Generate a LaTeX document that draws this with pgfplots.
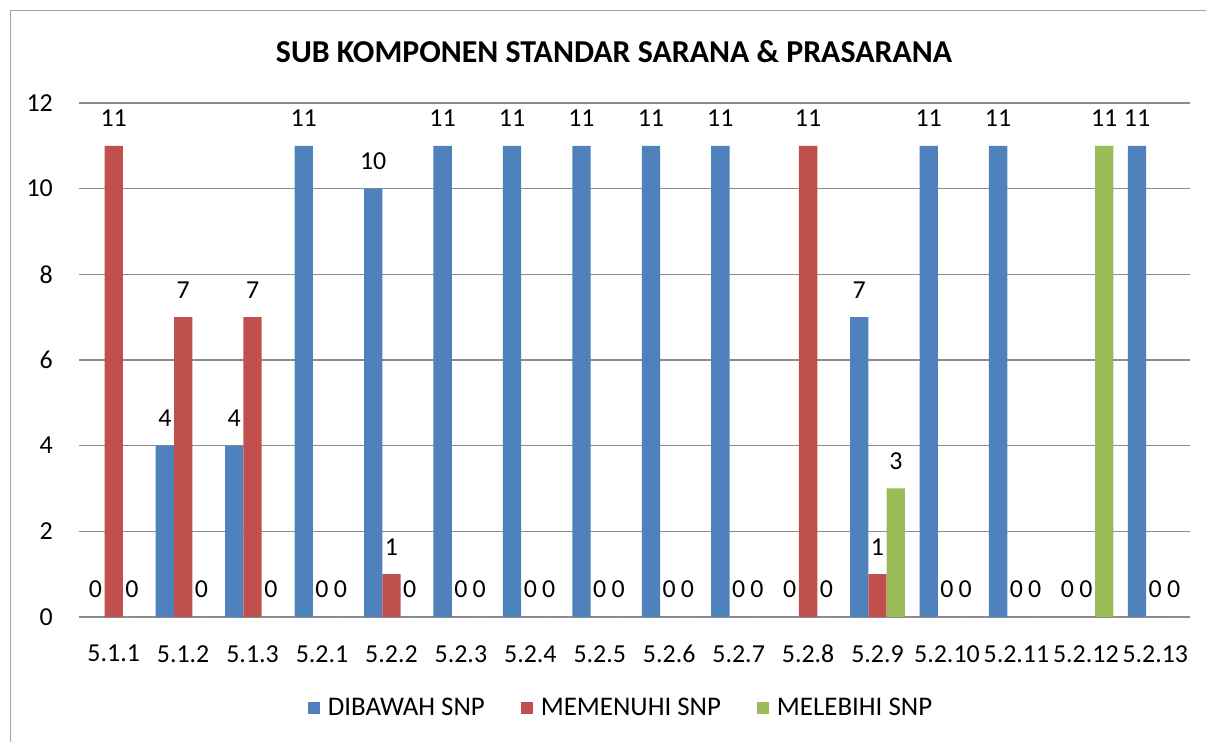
\documentclass[border=0pt]{standalone}
\usepackage{pgfplots}
\pgfplotsset{compat=1.18}
\usepackage{fontspec}
\setmainfont{Carlito}
\definecolor{cblue}{HTML}{4F81BD}
\definecolor{cred}{HTML}{C0504D}
\definecolor{cgreen}{HTML}{9BBB59}
\definecolor{cgrid}{RGB}{140,140,140}
\begin{document}
\begin{tikzpicture}[x=1bp,y=1bp]
\useasboundingbox (0,0) rectangle (1206,742);
\draw[color=cgrid!80, line width=1bp] (10,-2) -- (10,731) -- (1208,731);
\node[font=\fontsize{32}{36}\selectfont\bfseries] at (614,690) {SUB KOMPONEN STANDAR SARANA \& PRASARANA};
\begin{axis}[
  at={(79bp,125bp)}, anchor=south west,
  scale only axis, width=1111bp, height=514bp,
  ybar=0pt, bar width=18.3bp,
  xmin=-0.5, xmax=15.5, ymin=0, ymax=12,
  ytick={0,2,...,12},
  xtick={0,...,15},
  xticklabels={5.1.1,5.1.2,5.1.3,5.2.1,5.2.2,5.2.3,5.2.4,5.2.5,5.2.6,5.2.7,5.2.8,5.2.9,5.2.10,5.2.11,5.2.12,5.2.13},
  ymajorgrids, grid style={cgrid, line width=1.2bp},
  axis line style={draw=none},
  major tick length=0pt,
  /pgf/number format/assume math mode=true,
  ticklabel style={font=\fontsize{26}{30}\selectfont},
  yticklabel style={anchor=east, inner sep=0pt, xshift=-26bp},
  xticklabel style={anchor=north, inner sep=0pt, yshift=-28bp},
  nodes near coords,
  every node near coord/.append style={font=\fontsize{26}{30}\selectfont, anchor=base, inner sep=0pt, yshift=19bp},
  legend columns=3,
  legend style={draw=none, at={(0.487,-0.177)}, anchor=center, font=\fontsize{27}{30}\selectfont,
    nodes={inner sep=0pt},
    /tikz/every odd column/.append style={column sep=8bp},
    /tikz/every even column/.append style={column sep=36bp}},
  legend image code/.code={\path[#1] (0bp,-6bp) rectangle (12bp,6bp);},
]
\addplot[fill=cblue, draw=none] coordinates {(0,0) (1,4) (2,4) (3,11) (4,10) (5,11) (6,11) (7,11) (8,11) (9,11) (10,0) (11,7) (12,11) (13,11) (14,0) (15,11)};
\addplot[fill=cred, draw=none] coordinates {(0,11) (1,7) (2,7) (3,0) (4,1) (5,0) (6,0) (7,0) (8,0) (9,0) (10,11) (11,1) (12,0) (13,0) (14,0) (15,0)};
\addplot[fill=cgreen, draw=none] coordinates {(0,0) (1,0) (2,0) (3,0) (4,0) (5,0) (6,0) (7,0) (8,0) (9,0) (10,0) (11,3) (12,0) (13,0) (14,11) (15,0)};
\legend{DIBAWAH SNP, MEMENUHI SNP, MELEBIHI SNP}
\end{axis}
\end{tikzpicture}
\end{document}
